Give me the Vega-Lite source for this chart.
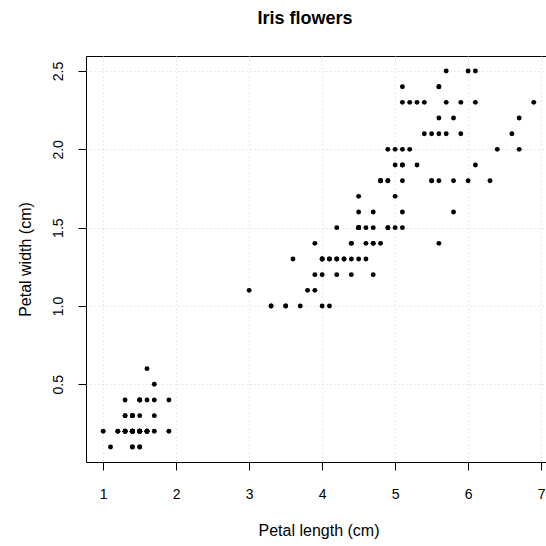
{
  "$schema": "https://vega.github.io/schema/vega-lite/v6.json",
  "autosize": {"type": "none"},
  "padding": {"left": 86, "top": 56, "right": -5, "bottom": 84},
  "width": 465,
  "height": 406,
  "background": "white",
  "title": {
    "text": "Iris flowers",
    "font": "Liberation Sans",
    "fontSize": 18,
    "fontWeight": "bold",
    "color": "black",
    "anchor": "middle",
    "frame": "group",
    "baseline": "alphabetic",
    "offset": 14,
    "dx": -13.5
  },
  "config": {
    "view": {"stroke": "black", "strokeWidth": 1},
    "axis": {
      "labelFont": "Liberation Sans",
      "titleFont": "Liberation Sans",
      "labelFontSize": 14,
      "titleFontSize": 16,
      "titleFontWeight": "normal",
      "labelColor": "black",
      "titleColor": "black",
      "tickColor": "black",
      "tickSize": 8,
      "domain": false,
      "grid": true,
      "gridColor": "#d3d3d3",
      "gridDash": [1, 3],
      "gridWidth": 1
    }
  },
  "data": {
    "values": [
      {"pl":1.4,"pw":0.2},{"pl":1.4,"pw":0.2},{"pl":1.3,"pw":0.2},{"pl":1.5,"pw":0.2},{"pl":1.4,"pw":0.2},
      {"pl":1.7,"pw":0.4},{"pl":1.4,"pw":0.3},{"pl":1.5,"pw":0.2},{"pl":1.4,"pw":0.2},{"pl":1.5,"pw":0.1},
      {"pl":1.5,"pw":0.2},{"pl":1.6,"pw":0.2},{"pl":1.4,"pw":0.1},{"pl":1.1,"pw":0.1},{"pl":1.2,"pw":0.2},
      {"pl":1.5,"pw":0.4},{"pl":1.3,"pw":0.4},{"pl":1.4,"pw":0.3},{"pl":1.7,"pw":0.3},{"pl":1.5,"pw":0.3},
      {"pl":1.7,"pw":0.2},{"pl":1.5,"pw":0.4},{"pl":1.0,"pw":0.2},{"pl":1.7,"pw":0.5},{"pl":1.9,"pw":0.2},
      {"pl":1.6,"pw":0.2},{"pl":1.6,"pw":0.4},{"pl":1.5,"pw":0.2},{"pl":1.4,"pw":0.2},{"pl":1.6,"pw":0.2},
      {"pl":1.6,"pw":0.2},{"pl":1.5,"pw":0.4},{"pl":1.5,"pw":0.1},{"pl":1.4,"pw":0.2},{"pl":1.5,"pw":0.2},
      {"pl":1.2,"pw":0.2},{"pl":1.3,"pw":0.2},{"pl":1.4,"pw":0.1},{"pl":1.3,"pw":0.2},{"pl":1.5,"pw":0.2},
      {"pl":1.3,"pw":0.3},{"pl":1.3,"pw":0.3},{"pl":1.3,"pw":0.2},{"pl":1.6,"pw":0.6},{"pl":1.9,"pw":0.4},
      {"pl":1.4,"pw":0.3},{"pl":1.6,"pw":0.2},{"pl":1.4,"pw":0.2},{"pl":1.5,"pw":0.2},{"pl":1.4,"pw":0.2},
      {"pl":4.7,"pw":1.4},{"pl":4.5,"pw":1.5},{"pl":4.9,"pw":1.5},{"pl":4.0,"pw":1.3},{"pl":4.6,"pw":1.5},
      {"pl":4.5,"pw":1.3},{"pl":4.7,"pw":1.6},{"pl":3.3,"pw":1.0},{"pl":4.6,"pw":1.3},{"pl":3.9,"pw":1.4},
      {"pl":3.5,"pw":1.0},{"pl":4.2,"pw":1.5},{"pl":4.0,"pw":1.0},{"pl":4.7,"pw":1.4},{"pl":3.6,"pw":1.3},
      {"pl":4.4,"pw":1.4},{"pl":4.5,"pw":1.5},{"pl":4.1,"pw":1.0},{"pl":4.5,"pw":1.5},{"pl":3.9,"pw":1.1},
      {"pl":4.8,"pw":1.8},{"pl":4.0,"pw":1.3},{"pl":4.9,"pw":1.5},{"pl":4.7,"pw":1.2},{"pl":4.3,"pw":1.3},
      {"pl":4.4,"pw":1.4},{"pl":4.8,"pw":1.4},{"pl":5.0,"pw":1.7},{"pl":4.5,"pw":1.5},{"pl":3.5,"pw":1.0},
      {"pl":3.8,"pw":1.1},{"pl":3.7,"pw":1.0},{"pl":3.9,"pw":1.2},{"pl":5.1,"pw":1.6},{"pl":4.5,"pw":1.5},
      {"pl":4.5,"pw":1.6},{"pl":4.7,"pw":1.5},{"pl":4.4,"pw":1.3},{"pl":4.1,"pw":1.3},{"pl":4.0,"pw":1.3},
      {"pl":4.4,"pw":1.2},{"pl":4.6,"pw":1.4},{"pl":4.0,"pw":1.2},{"pl":3.3,"pw":1.0},{"pl":4.2,"pw":1.3},
      {"pl":4.2,"pw":1.2},{"pl":4.2,"pw":1.3},{"pl":4.3,"pw":1.3},{"pl":3.0,"pw":1.1},{"pl":4.1,"pw":1.3},
      {"pl":6.0,"pw":2.5},{"pl":5.1,"pw":1.9},{"pl":5.9,"pw":2.1},{"pl":5.6,"pw":1.8},{"pl":5.8,"pw":2.2},
      {"pl":6.6,"pw":2.1},{"pl":4.5,"pw":1.7},{"pl":6.3,"pw":1.8},{"pl":5.8,"pw":1.8},{"pl":6.1,"pw":2.5},
      {"pl":5.1,"pw":2.0},{"pl":5.3,"pw":1.9},{"pl":5.5,"pw":2.1},{"pl":5.0,"pw":2.0},{"pl":5.1,"pw":2.4},
      {"pl":5.3,"pw":2.3},{"pl":5.5,"pw":1.8},{"pl":6.7,"pw":2.2},{"pl":6.9,"pw":2.3},{"pl":5.0,"pw":1.5},
      {"pl":5.7,"pw":2.3},{"pl":4.9,"pw":2.0},{"pl":6.7,"pw":2.0},{"pl":4.9,"pw":1.8},{"pl":5.7,"pw":2.1},
      {"pl":6.0,"pw":1.8},{"pl":4.8,"pw":1.8},{"pl":4.9,"pw":1.8},{"pl":5.6,"pw":2.1},{"pl":5.8,"pw":1.6},
      {"pl":6.1,"pw":1.9},{"pl":6.4,"pw":2.0},{"pl":5.6,"pw":2.2},{"pl":5.1,"pw":1.5},{"pl":5.6,"pw":1.4},
      {"pl":6.1,"pw":2.3},{"pl":5.6,"pw":2.4},{"pl":5.5,"pw":1.8},{"pl":4.8,"pw":1.8},{"pl":5.4,"pw":2.1},
      {"pl":5.6,"pw":2.4},{"pl":5.1,"pw":2.3},{"pl":5.1,"pw":1.9},{"pl":5.9,"pw":2.3},{"pl":5.7,"pw":2.5},
      {"pl":5.2,"pw":2.3},{"pl":5.0,"pw":1.9},{"pl":5.2,"pw":2.0},{"pl":5.4,"pw":2.3},{"pl":5.1,"pw":1.8}
    ]
  },
  "mark": {"type": "circle", "color": "black", "opacity": 1, "size": 24},
  "encoding": {
    "x": {
      "field": "pl",
      "type": "quantitative",
      "scale": {"domain": [0.764, 7.136], "nice": false, "zero": false},
      "axis": {
        "title": "Petal length (cm)",
        "values": [1, 2, 3, 4, 5, 6, 7],
        "format": "d",
        "labelPadding": 17,
        "labelBaseline": "top",
        "titlePadding": 34,
        "titleBaseline": "alphabetic",
        "labelFlush": false
      }
    },
    "y": {
      "field": "pw",
      "type": "quantitative",
      "scale": {"domain": [0.004, 2.596], "nice": false, "zero": false},
      "axis": {
        "title": "Petal width (cm)",
        "values": [0.5, 1.0, 1.5, 2.0, 2.5],
        "format": ".1f",
        "labelAngle": 270,
        "labelAlign": "center",
        "labelBaseline": "alphabetic",
        "labelPadding": 16,
        "titlePadding": 21,
        "titleBaseline": "alphabetic",
        "labelFlush": false
      }
    }
  }
}
